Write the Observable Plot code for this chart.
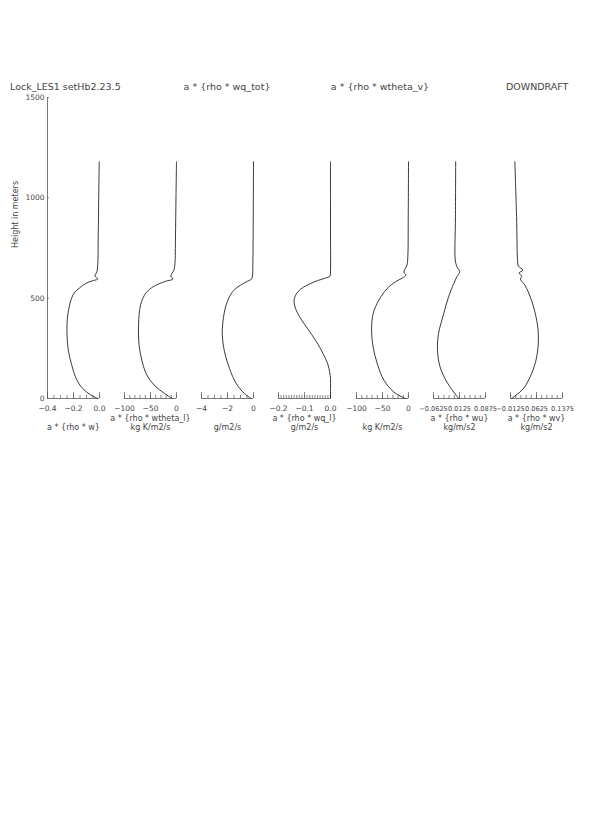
<!DOCTYPE html>
<html><head><meta charset="utf-8">
<script src="https://cdn.jsdelivr.net/npm/d3@7"></script>
<script src="https://cdn.jsdelivr.net/npm/@observablehq/plot@0.6"></script>
<style>
body{margin:0;background:#fff;}
#page{position:relative;width:595px;height:833px;background:#fff;overflow:hidden;font-family:"DejaVu Sans",sans-serif;color:#444;}
.t{position:absolute;font-size:9.5px;white-space:nowrap;line-height:1;}
#page svg{position:absolute;}
</style></head><body><div id="page"></div>
<script>
// ---- data ----
const wH  = [0, 17, 50, 100, 170, 240, 320, 400, 450, 500, 530, 550, 565, 580, 588, 596, 610, 632, 673, 800, 1000, 1180];
const wV  = [-0.015, -0.065, -0.13, -0.18, -0.215, -0.24, -0.25, -0.247, -0.235, -0.215, -0.19, -0.155, -0.125, -0.085, -0.045, -0.012, -0.035, -0.02, -0.013, -0.01, -0.006, -0.002];

const thlH = [0, 25, 67, 117, 183, 267, 367, 467, 525, 557, 570, 585, 595, 610, 640, 673, 800, 1000, 1180];
const thlV = [-8, -23, -43, -57, -66, -72, -73, -69, -59, -45, -35, -20, -7, -11, -5, -3, -2, -1, 0];

const qtH = [0, 25, 75, 150, 233, 317, 383, 467, 533, 567, 585, 595, 610, 673, 900, 1180];
const qtV = [-0.18, -0.7, -1.33, -1.85, -2.23, -2.4, -2.35, -2.1, -1.6, -0.95, -0.45, -0.15, -0.08, -0.05, -0.02, 0];

const qlH = [0, 50, 100, 130, 170, 220, 270, 320, 370, 410, 450, 490, 520, 545, 565, 585, 600, 610, 640, 800, 1000, 1180];
const qlV = [0, 0, 0, -0.003, -0.01, -0.027, -0.048, -0.073, -0.1, -0.12, -0.135, -0.14, -0.132, -0.115, -0.09, -0.055, -0.02, -0.002, 0, 0, 0, 0];

const thvH = [0, 32, 90, 173, 257, 340, 423, 490, 548, 582, 600, 615, 630, 665, 707, 900, 1180];
const thvV = [-6.5, -28, -47, -60, -68, -71, -68, -57, -41, -25, -12, -5, -9, -3, -1.3, -0.5, 0];

const uH = [0, 32, 82, 157, 240, 323, 423, 507, 573, 607, 632, 657, 690, 900, 1180];
const uV = [0.0102, -0.004, -0.024, -0.0435, -0.051, -0.048, -0.033, -0.019, -0.004, 0.005, 0.013, 0.005, 0.0003, 0.0008, 0.0015];

const vH = [0, 48, 123, 207, 307, 390, 490, 565, 595, 610, 625, 640, 660, 682, 907, 1180];
const vV = [-0.0095, 0.024, 0.048, 0.063, 0.068, 0.063, 0.048, 0.029, 0.016, 0.02, 0.012, 0.023, 0.01, 0.008, 0.005, 0.0];

const xDomains = [[-0.4, 0], [-100, 0], [-4, 0], [-0.2, 0], [-100, 0], [-0.0625, 0.0875], [-0.0125, 0.1375]];
const majorTicks = [[-0.4, -0.2, 0], [-100, -50, 0], [-4, -2, 0], [-0.2, -0.1, 0], [-100, -50, 0], [-0.0625, 0.0125, 0.0875], [-0.0125, 0.0625, 0.1375]];
const tickLabels = [["−0.4", "−0.2", "0.0"], ["−100", "−50", "0"], ["−4", "−2", "0"], ["−0.2", "−0.1", "0.0"], ["−100", "−50", "0"], ["−0.0625", "0.0125", "0.0875"], ["−0.0125", "0.0625", "0.1375"]];
const tickFontSizes = [7.5, 7.5, 7.5, 7.5, 7.5, 6.6, 6.6];
const minorCounts = [8, 10, 8, 20, 10, 10, 10];
const bottomLine1 = ["", "a * {rho * wtheta_l}", "", "a * {rho * wq_l}", "", "a * {rho * wu}", "a * {rho * wv}"];
const bottomLine2 = ["a * {rho * w}", "kg K/m2/s", "g/m2/s", "g/m2/s", "kg K/m2/s", "kg/m/s2", "kg/m/s2"];
const yTicks = [0, 500, 1000, 1500];
const yTickLabels = ["0", "500", "1000", "1500"];
const yLabel = "Height in meters";
const topTitles = [
  {text: "Lock_LES1 setHb2.23.5", x: 10, anchor: "start"},
  {text: "a * {rho * wq_tot}", x: 227, anchor: "middle"},
  {text: "a * {rho * wtheta_v}", x: 380, anchor: "middle"},
  {text: "DOWNDRAFT", x: 506, anchor: "start"}
];

const series = [[wH, wV], [thlH, thlV], [qtH, qtV], [qlH, qlV], [thvH, thvV], [uH, uV], [vH, vV]];

// ---- layout ----
const page = document.getElementById("page");
const fw = 52, fh = 301, frameTop = 97;
const ml = 45, mr = 45, mt = 10, mb = 50;
const axisColor = "#555", lineColor = "#222";

series.forEach(([hs, vs], i) => {
  const left = 46.5 + 77.3 * i;
  const [lo, hi] = xDomains[i];
  const n = minorCounts[i];
  const minor = d3.range(n + 1).map(k => lo + (hi - lo) * k / n);
  const data = hs.map((h, j) => ({h, v: vs[j]}));
  const marks = [
    Plot.ruleY([0], {stroke: axisColor, strokeWidth: 0.8}),
    Plot.tickX(minor, {x: d => d, stroke: axisColor, strokeWidth: 0.7, insetTop: fh - 3}),
    Plot.tickX(majorTicks[i], {x: d => d, stroke: axisColor, strokeWidth: 0.7, insetTop: fh - 6}),
    Plot.text(majorTicks[i], {x: d => d, text: (d, j) => tickLabels[i][j], frameAnchor: "bottom", dy: 12.5, fontSize: tickFontSizes[i]}),
    Plot.line(data, {x: "v", y: "h", curve: "catmull-rom", stroke: lineColor, strokeWidth: 0.9})
  ];
  if (bottomLine1[i]) marks.push(Plot.text([bottomLine1[i]], {text: d => d, frameAnchor: "bottom", dy: 22, fontSize: 8}));
  if (bottomLine2[i]) marks.push(Plot.text([bottomLine2[i]], {text: d => d, frameAnchor: "bottom", dy: 31.5, fontSize: 8}));
  if (i === 0) {
    marks.push(
      Plot.ruleX([lo], {y1: 0, y2: 1500, stroke: axisColor, strokeWidth: 0.8}),
      Plot.tickY(yTicks, {y: d => d, stroke: axisColor, strokeWidth: 0.7, insetRight: fw - 2}),
      Plot.text(yTicks, {y: d => d, text: (d, j) => yTickLabels[j], frameAnchor: "left", dx: -3, textAnchor: "end", fontSize: 7.5}),
      Plot.text([yLabel], {text: d => d, frameAnchor: "left", dx: -32.5, rotate: -90, fontSize: 8})
    );
  }
  const svg = Plot.plot({
    width: fw + ml + mr, height: fh + mt + mb,
    marginLeft: ml, marginRight: mr, marginTop: mt, marginBottom: mb,
    style: {background: "transparent", overflow: "visible", fontFamily: "DejaVu Sans, sans-serif", color: "#444", maxWidth: "none"},
    x: {domain: xDomains[i], axis: null},
    y: {domain: [0, 1500], axis: null},
    marks
  });
  svg.style.left = (left - ml) + "px";
  svg.style.top = (frameTop - mt) + "px";
  page.appendChild(svg);
});

topTitles.forEach(t => {
  const d = document.createElement("div");
  d.className = "t";
  d.textContent = t.text;
  d.style.top = "82px";
  d.style.left = t.x + "px";
  if (t.anchor === "middle") d.style.transform = "translateX(-50%)";
  page.appendChild(d);
});
</script>
</body></html>
